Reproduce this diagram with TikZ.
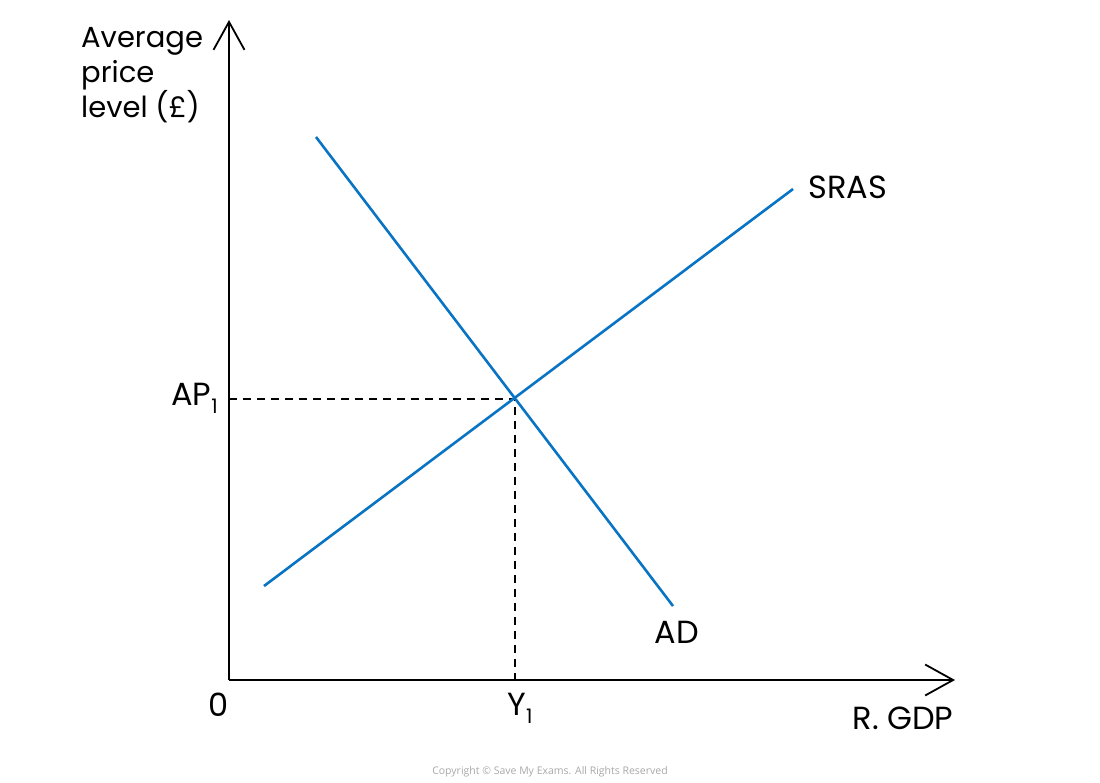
\documentclass[tikz,border=0pt]{standalone}
\usepackage{fontspec}
\setmainfont{Poppins}
\newfontfamily\copyfont{Open Sans}
\usetikzlibrary{arrows.meta}
\definecolor{curveblue}{HTML}{0A74C4}
\definecolor{copygray}{HTML}{A8A8A8}
\newcommand{\lowsub}[1]{\raisebox{-8pt}{\fontsize{20}{20}\selectfont #1}}
\begin{document}
\begin{tikzpicture}[x=1pt,y=-1pt,
  axis/.style={line width=1.8pt,-{Straight Barb[length=28pt,width=31pt,line width=1.8pt]}},
  curve/.style={line width=2.6pt,curveblue},
  guide/.style={line width=1.3pt,dash pattern=on 8pt off 6pt},
  lbl/.style={font=\fontsize{32}{35}\selectfont,inner sep=0pt},
  ylbl/.style={font=\fontsize{29}{35}\selectfont,inner sep=0pt}]
\useasboundingbox (0,0) rectangle (1100,782);
\coordinate (O) at (229,680);
\coordinate (ytop) at (229,20);
\coordinate (xend) at (955,680);
\coordinate (adA) at (316,137);
\coordinate (adB) at (673,606);
\coordinate (sA) at (264,586);
\coordinate (sB) at (793,189);
\coordinate (E) at (515,399);
\coordinate (ap) at (229,399);
\coordinate (y1) at (515,680);
\draw[axis] (O) -- (ytop);
\draw[axis] (O) -- (xend);
\draw[guide] (ap) -- (E) -- (y1);
\draw[curve] (adA) -- (adB);
\draw[curve] (sA) -- (sB);
\node[ylbl,align=left,anchor=north west] (ylab) at (81,27) {Average\\price\\level (£)};
\node[lbl,anchor=east] (aplab) at (218,398) {AP\lowsub{1}};
\node[lbl] (olab) at (219,705) {0};
\node[lbl] (ylab1) at (520,708) {Y\lowsub{1}};
\node[lbl] (xlab) at (903,718) {R. GDP};
\node[lbl] (adlab) at (677,632) {AD};
\node[lbl] (slab) at (848,187) {SRAS};
\node[text=copygray,font=\copyfont\fontsize{10.5}{10.5}\selectfont] (copy) at (550,772) {Copyright © Save My Exams. All Rights Reserved};
\end{tikzpicture}
\end{document}
